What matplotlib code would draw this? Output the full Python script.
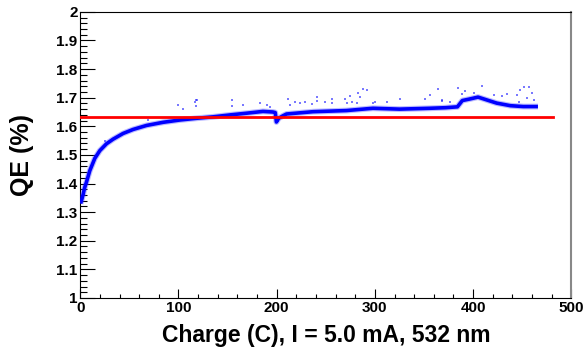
import matplotlib
matplotlib.use("Agg")
import matplotlib.pyplot as plt
from matplotlib.ticker import MultipleLocator

plt.rcParams['font.family'] = ['Liberation Sans', 'DejaVu Sans']
plt.rcParams['font.weight'] = 'bold'

# main band of QE vs charge
charge = [0.3, 1.2, 2.9, 4.4, 6.3, 9.7, 14.8, 19.9, 26.7, 33.4, 43.6, 53.8,
          67.5, 84.4, 101.4, 118.4, 135, 153, 170, 186, 196, 198.5, 199.7,
          202, 206, 210, 237, 271, 298, 325, 346, 356, 372, 384, 389, 396,
          405, 414, 424, 438, 451, 466]
qe = [1.33, 1.34, 1.362, 1.385, 1.405, 1.445, 1.488, 1.515, 1.539, 1.555,
      1.575, 1.589, 1.603, 1.614, 1.622, 1.628, 1.633, 1.640, 1.646, 1.652,
      1.650, 1.648, 1.615, 1.628, 1.636, 1.643, 1.651, 1.655, 1.663, 1.660,
      1.662, 1.663, 1.665, 1.668, 1.690, 1.695, 1.702, 1.692, 1.681, 1.672,
      1.669, 1.669]

# scattered points above the band
out_x = [25, 69.1, 99.7, 104.8, 116.7, 117.7, 117.7, 118.4, 154.1, 154.1,
         166, 183, 189.8, 193.2, 211.8, 213.6, 218.7, 223.8, 228.8, 235.7,
         240.8, 240.8, 249.2, 256, 256, 269.6, 271.4, 274.7, 276.5, 281.5,
         283.2, 284.9, 288.3, 291.7, 298.5, 300.2, 312.1, 325.7, 351.2,
         356.3, 364.7, 368.2, 368.2, 376.7, 384.1, 388.6, 392, 400.4, 409,
         420.8, 429.4, 434.5, 444.6, 446.3, 448, 451.4, 454.8, 456.5, 459.9,
         461.6]
out_y = [1.550, 1.622, 1.675, 1.660, 1.686, 1.692, 1.671, 1.692, 1.692, 1.671,
         1.675, 1.681, 1.675, 1.669, 1.695, 1.675, 1.686, 1.681, 1.686, 1.677,
         1.704, 1.690, 1.686, 1.695, 1.681, 1.695, 1.681, 1.706, 1.686, 1.683,
         1.716, 1.704, 1.730, 1.727, 1.683, 1.686, 1.686, 1.695, 1.695,
         1.710, 1.730, 1.692, 1.690, 1.686, 1.733, 1.713, 1.725, 1.716, 1.741,
         1.710, 1.706, 1.713, 1.710, 1.686, 1.727, 1.737, 1.698, 1.739, 1.718,
         1.692]

fit_level = 1.634
fit_range = [0, 481]

fig = plt.figure(figsize=(5.86, 3.59), dpi=100)
ax = fig.add_axes([0.137, 0.170, 0.838, 0.797])

ax.scatter(out_x, out_y, s=4, marker='s', color='#2020ff', alpha=0.6,
           linewidths=0, zorder=2)
# light fringe of the point cloud, then the dense core
ax.plot(charge, qe, color='#4040ff', lw=4.2, alpha=0.35, solid_joinstyle='round',
        solid_capstyle='butt', zorder=3)
ax.plot(charge, qe, color='#0000ff', lw=2.6, solid_joinstyle='round',
        solid_capstyle='butt', zorder=3)
ax.plot(fit_range, [fit_level, fit_level], color='#ff0000', lw=2.0, zorder=4)

ax.set_xlim(0, 500)
ax.set_ylim(1, 2)
ax.xaxis.set_major_locator(MultipleLocator(100))
ax.xaxis.set_minor_locator(MultipleLocator(20))
ax.yaxis.set_major_locator(MultipleLocator(0.1))
ax.yaxis.set_minor_locator(MultipleLocator(0.02))
ax.yaxis.set_major_formatter(plt.FuncFormatter(lambda v, p: ('%.1f' % v).rstrip('0').rstrip('.')))

ax.tick_params(axis='y', which='major', direction='in', length=10.8, width=0.8, pad=2, labelsize=11)
ax.tick_params(axis='y', which='minor', direction='in', length=5, width=0.8)
ax.tick_params(axis='x', which='major', direction='in', length=6.5, width=0.8, pad=2, labelsize=11)
ax.tick_params(axis='x', which='minor', direction='in', length=3.2, width=0.8)

for s in ['left', 'bottom', 'top']:
    ax.spines[s].set_linewidth(0.8)
ax.spines['right'].set_color('#888888')
ax.spines['right'].set_linewidth(1.5)

ax.set_xlabel('Charge (C), I = 5.0 mA, 532 nm', fontsize=16.5, fontweight='bold', labelpad=7)
ax.set_ylabel('QE (%)', fontsize=18, fontweight='bold', labelpad=16)

fig.savefig('out.png', dpi=100)
